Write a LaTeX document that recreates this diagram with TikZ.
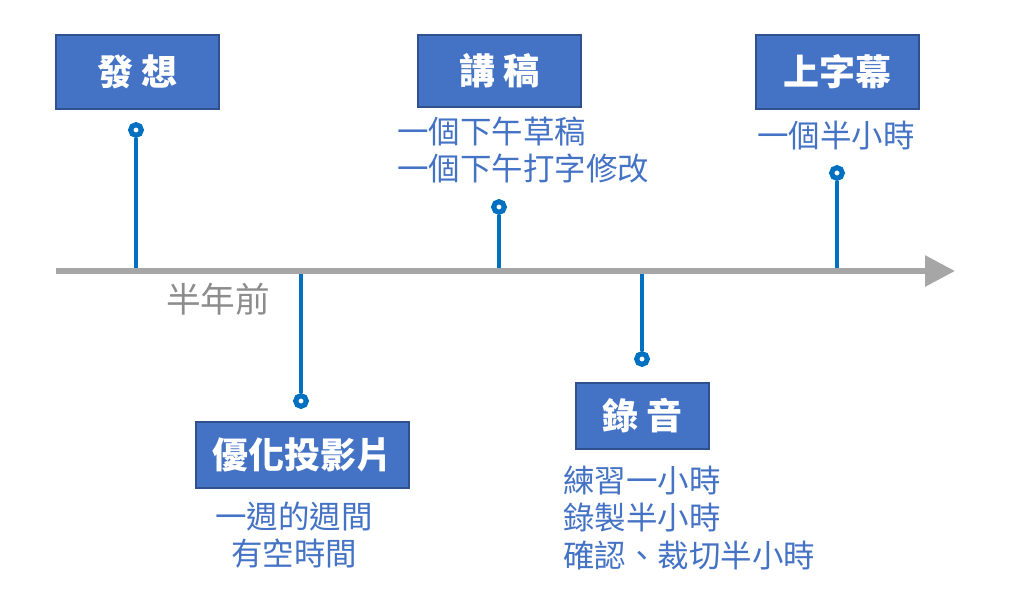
\documentclass[tikz,border=0pt]{standalone}
\usepackage{fontspec}
\setmainfont{Noto Sans CJK TC}
\usetikzlibrary{arrows.meta, positioning}
\definecolor{boxblue}{HTML}{4472C4}
\definecolor{boxedge}{HTML}{2F528F}
\definecolor{stemblue}{HTML}{0070C0}
\definecolor{axisgray}{HTML}{A6A6A6}
\definecolor{notegray}{HTML}{8C8C8C}

\begin{document}
\begin{tikzpicture}[x=0.75pt, y=-0.75pt,
            phase/.style={rectangle, draw=boxedge, fill=boxblue, line width=0.8pt, text=white, inner sep=0pt, font=\fontsize{27}{32}\selectfont\bfseries},
            note/.style={text=boxblue, inner sep=0pt, font=\fontsize{23.6}{28}\selectfont},
            pin/.style={circle, draw=stemblue, fill=white, line width=3.8pt, minimum size=8pt, inner sep=0pt},
            stem/.style={draw=stemblue, line width=3pt}]

    \useasboundingbox (0,0) rectangle (1013,611);

    % Nodes
    \node[phase, minimum width=122.25pt, minimum height=55.5pt] (idea) at (137.5,72) {發 想};
    \node[phase, minimum width=159.75pt, minimum height=49.5pt] (slides) at (302.5,455) {優化投影片};
    \node[phase, minimum width=122.25pt, minimum height=54pt] (script) at (499.5,71) {講 稿};
    \node[phase, minimum width=99.75pt, minimum height=49.5pt] (record) at (642.5,416) {錄 音};
    \node[phase, minimum width=122.25pt, minimum height=55.5pt] (subs) at (837.5,72) {上字幕};

    \node[note, align=center] (slidesnote) at (294,535) {一週的週間\\有空時間};
    \node[note, align=left, anchor=west] (scriptnote) at (397,150) {一個下午草稿\\一個下午打字修改};
    \node[note, align=left, anchor=west] (recordnote) at (563,518) {練習一小時\\錄製半小時\\確認、裁切半小時};
    \node[note] (subsnote) at (836,136) {一個半小時};
    \node[text=notegray, inner sep=0pt, font=\fontsize{26}{30}\selectfont] (ago) at (218,299) {半年前};

    \node[pin] (p1) at (136,130) {};
    \node[pin] (p2) at (301,401) {};
    \node[pin] (p3) at (499,207) {};
    \node[pin] (p4) at (642,359) {};
    \node[pin] (p5) at (837,173) {};

    \coordinate (a1) at (136,271);
    \coordinate (a2) at (301,271);
    \coordinate (a3) at (499,271);
    \coordinate (a4) at (642,271);
    \coordinate (a5) at (837,271);
    \coordinate (start) at (56,271);
    \coordinate (end) at (955,271);

    % Edges
    \draw[stem] (a1) -- (p1);
    \draw[stem] (a2) -- (p2);
    \draw[stem] (a3) -- (p3);
    \draw[stem] (a4) -- (p4);
    \draw[stem] (a5) -- (p5);

    \draw[axisgray, line width=4.5pt, -{Triangle[length=22.5pt, width=22.5pt]}] (start) -- (end);
\end{tikzpicture}
\end{document}
